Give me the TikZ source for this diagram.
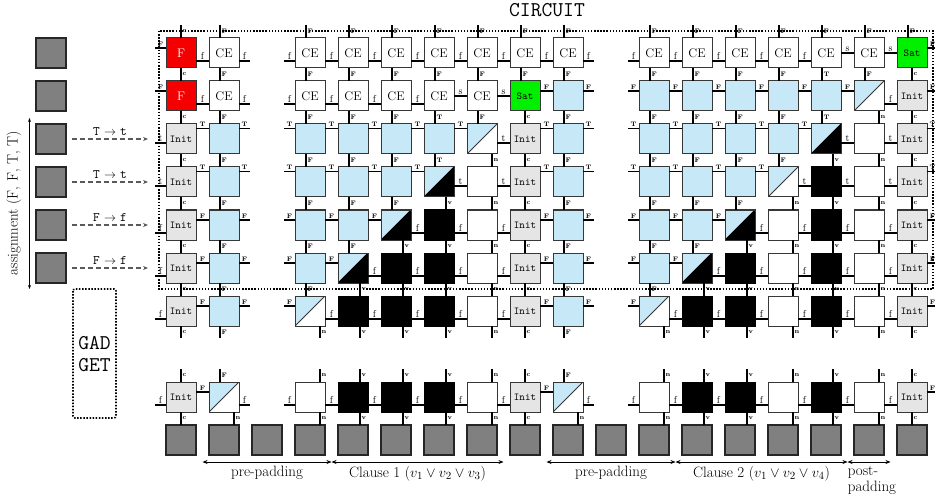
\documentclass[tikz,border=0pt]{standalone}
\usetikzlibrary{calc,arrows.meta}
\definecolor{cblue}{RGB}{198,232,247}
\definecolor{cgray}{RGB}{229,229,229}
\definecolor{cgreen}{RGB}{0,240,0}
\definecolor{cred}{RGB}{245,0,0}
\definecolor{cdark}{RGB}{128,128,128}
\definecolor{cborder}{RGB}{55,55,55}
\tikzset{
 cellbase/.style={draw=cborder, line width=1pt, minimum width=30pt, minimum height=30pt, inner sep=0pt, outer sep=0pt},
 ce/.style={cellbase, fill=white, font=\fontsize{12.5}{12.5}\selectfont},
 redf/.style={cellbase, fill=cred, text=white, font=\fontsize{12.5}{12.5}\selectfont},
 satcell/.style={cellbase, fill=cgreen, font=\ttfamily\fontsize{10.5}{10.5}\selectfont},
 initcell/.style={cellbase, fill=cgray, font=\ttfamily\fontsize{10.5}{10.5}\selectfont},
 blu/.style={cellbase, fill=cblue},
 wht/.style={cellbase, fill=white},
 blk/.style={cellbase, fill=black, draw=black},
 dbw/.style={cellbase, fill=white, path picture={
   \fill[cblue] (path picture bounding box.north west) -- (path picture bounding box.north east) -- (path picture bounding box.south west) -- cycle;
   \draw[cborder, line width=0.9pt] (path picture bounding box.south west) -- (path picture bounding box.north east);}},
 dbk/.style={cellbase, fill=black, path picture={
   \fill[cblue] (path picture bounding box.north west) -- (path picture bounding box.north east) -- (path picture bounding box.south west) -- cycle;
   \draw[black, line width=0.9pt] (path picture bounding box.south west) -- (path picture bounding box.north east);}},
 grayb/.style={cellbase, fill=cdark, draw=black!85, line width=1.2pt},
 wire/.style={line width=1.4pt, black},
 hlL/.style={above, inner sep=0.6pt, font=\fontsize{10}{10}\selectfont},
 hlU/.style={above, inner sep=0.8pt, font=\fontsize{6.5}{6.5}\selectfont\bfseries},
 vlab/.style={anchor=west, inner sep=1pt, font=\fontsize{6.5}{6.5}\selectfont\bfseries},
 dotbox/.style={line width=1.6pt, dash pattern=on 1.5pt off 1.6pt},
 dasharr/.style={dash pattern=on 5pt off 3pt, line width=1.1pt, draw=black!65, -{Stealth[length=5pt,width=4pt]}, shorten <=6pt, shorten >=18pt},
 lab13/.style={above, inner sep=3pt, font=\fontsize{13}{13}\selectfont},
 barrow/.style={line width=0.9pt, {Stealth[length=5pt,width=4pt]}-{Stealth[length=5pt,width=4pt]}},
 blab/.style={below=2pt, inner sep=2pt, font=\fontsize{15}{16}\selectfont},
}
\newcommand\hwires[4]{\foreach \Rw/\Ka/\Kb in {#4}{\draw[wire] ($(n\Rw-\Ka.north east)+(0,#1)$) -- node[#2]{#3} ($(n\Rw-\Kb.north west)+(0,#1)$);}}
\newcommand\lstubs[4]{\foreach \Rw/\Ka in {#4}{\draw[wire] ($(n\Rw-\Ka.north west)+(0,#1)$) -- node[#2]{#3} ++(-11,0);}}
\newcommand\rstubs[4]{\foreach \Rw/\Ka in {#4}{\draw[wire] ($(n\Rw-\Ka.north east)+(0,#1)$) -- node[#2]{#3} ++(11,0);}}
\newcommand\vwires[3]{\foreach \Ka/\Ra/\Rb in {#3}{\draw[wire] ($(n\Ra-\Ka.south west)+(#1,0)$) -- node[vlab]{#2} ($(n\Rb-\Ka.north west)+(#1,0)$);}}
\newcommand\tstubs[4]{\foreach \Ka in {#4}{\draw[wire] ($(n#3-\Ka.north west)+(#1,0)$) -- node[vlab]{#2} ++(0,-13);}}
\newcommand\bstubs[4]{\foreach \Ka in {#4}{\draw[wire] ($(n#3-\Ka.south west)+(#1,0)$) -- node[vlab]{#2} ++(0,12);}}
\begin{document}
\begin{tikzpicture}[x=1pt,y=-1pt]
\useasboundingbox (0,0) rectangle (935,500);
% frames
\draw[dotbox] (159,31) rectangle (933,289);
\node[font=\ttfamily\fontsize{21}{21}\selectfont] (circ) at (547,10) {CIRCUIT};
\draw[dotbox, rounded corners=2pt] (73,289) rectangle (116,418);
\node[font=\ttfamily\fontsize{21}{22}\selectfont, align=center] (gad) at (94.5,354.5) {GAD\\GET};
% cells
\foreach \Rw/\Kk in {0/1,0/3,0/4,0/5,0/6,0/7,0/8,0/9,0/11,0/12,0/13,0/14,0/15,0/16,1/1,1/3,1/4,1/5,1/6,1/7}
  {\node[ce] (n\Rw-\Kk) at ({181+43*\Kk},{53+43*\Rw}) {CE};}
\foreach \Rw/\Kk in {0/0,1/0}
  {\node[redf] (n\Rw-\Kk) at ({181+43*\Kk},{53+43*\Rw}) {F};}
\foreach \Rw/\Kk in {0/17,1/8}
  {\node[satcell] (n\Rw-\Kk) at ({181+43*\Kk},{53+43*\Rw}) {Sat};}
\foreach \Rw/\Kk in {1/17,2/0,2/8,2/17,3/0,3/8,3/17,4/0,4/8,4/17,5/0,5/8,5/17,6/0,6/8,6/17,8/0,8/8,8/17}
  {\node[initcell] (n\Rw-\Kk) at ({181+43*\Kk},{53+43*\Rw}) {Init};}
\foreach \Rw/\Kk in {1/9,1/11,1/12,1/13,1/14,1/15,2/1,2/3,2/4,2/5,2/6,2/9,2/11,2/12,2/13,2/14,3/1,3/3,3/4,3/5,3/9,3/11,3/12,3/13,4/1,4/3,4/4,4/9,4/11,4/12,5/1,5/3,5/9,5/11,6/1,6/9}
  {\node[blu] (n\Rw-\Kk) at ({181+43*\Kk},{53+43*\Rw}) {};}
\foreach \Rw/\Kk in {1/16,2/7,3/14,6/3,6/11,8/1,8/9}
  {\node[dbw] (n\Rw-\Kk) at ({181+43*\Kk},{53+43*\Rw}) {};}
\foreach \Rw/\Kk in {2/15,3/6,4/5,4/13,5/4,5/12}
  {\node[dbk] (n\Rw-\Kk) at ({181+43*\Kk},{53+43*\Rw}) {};}
\foreach \Rw/\Kk in {2/16,3/7,3/16,4/7,4/14,4/16,5/7,5/14,5/16,6/7,6/14,6/16,8/3,8/7,8/11,8/14,8/16}
  {\node[wht] (n\Rw-\Kk) at ({181+43*\Kk},{53+43*\Rw}) {};}
\foreach \Rw/\Kk in {3/15,4/6,4/15,5/5,5/6,5/13,5/15,6/4,6/5,6/6,6/12,6/13,6/15,8/4,8/5,8/6,8/12,8/13,8/15}
  {\node[blk] (n\Rw-\Kk) at ({181+43*\Kk},{53+43*\Rw}) {};}
\foreach \Kk in {0,...,17}
  {\node[grayb] (n9-\Kk) at ({181+43*\Kk},440) {};}
\foreach \Rw in {0,...,5}
  {\node[grayb] (g\Rw) at (51,{53+43*\Rw}) {};}
% horizontal wires
\hwires{23}{hlL}{f}{0/0/1,0/3/4,0/4/5,0/5/6,0/6/7,0/7/8,0/8/9,0/11/12,0/12/13,0/13/14,0/14/15,
 1/0/1,1/3/4,1/4/5,1/5/6,1/16/17,
 4/5/6,4/6/7,4/7/8,4/13/14,4/14/15,4/15/16,4/16/17,
 5/4/5,5/5/6,5/6/7,5/7/8,5/12/13,5/13/14,5/14/15,5/15/16,5/16/17,
 6/3/4,6/4/5,6/5/6,6/6/7,6/7/8,6/11/12,6/12/13,6/13/14,6/14/15,6/15/16,6/16/17,
 8/3/4,8/4/5,8/5/6,8/6/7,8/7/8,8/11/12,8/12/13,8/13/14,8/14/15,8/15/16,8/16/17}
\hwires{15}{hlL}{s}{0/15/16,0/16/17,1/6/7,1/7/8}
\hwires{19}{hlL}{t}{2/7/8,2/15/16,2/16/17,3/6/7,3/7/8,3/14/15,3/15/16,3/16/17}
\hwires{4.5}{hlU}{T}{2/0/1,2/3/4,2/4/5,2/5/6,2/6/7,2/8/9,2/11/12,2/12/13,2/13/14,2/14/15,
 3/0/1,3/3/4,3/4/5,3/5/6,3/8/9,3/11/12,3/12/13,3/13/14}
\hwires{10}{hlU}{F}{1/8/9,1/11/12,1/12/13,1/13/14,1/14/15,1/15/16,4/0/1,4/3/4,4/4/5,4/8/9,4/11/12,4/12/13,
 5/0/1,5/3/4,5/8/9,5/11/12,6/0/1,6/8/9,8/0/1,8/8/9}
% horizontal stubs
\lstubs{10}{hlU}{F}{0/0,1/0,1/11,4/3,4/11,5/3,5/11,6/3,6/11}
\lstubs{4.5}{hlU}{T}{2/3,2/11,3/3,3/11}
\lstubs{23}{hlL}{f}{0/3,0/11,1/3,4/0,5/0,6/0,8/0,8/3,8/11}
\lstubs{19}{hlL}{t}{2/0,3/0}
\rstubs{23}{hlL}{f}{0/1,0/9,1/1,8/1,8/9}
\rstubs{10}{hlU}{F}{0/17,1/9,1/17,4/1,4/9,4/17,5/1,5/9,5/17,6/1,6/9,6/17,8/17}
\rstubs{4.5}{hlU}{T}{2/1,2/9,2/17,3/1,3/9,3/17}
% vertical wires
\vwires{11}{F}{1/0/1,1/1/2,1/2/3,1/3/4,1/4/5,1/5/6,3/0/1,3/1/2,3/2/3,3/3/4,3/4/5,3/5/6,
 4/0/1,4/1/2,4/2/3,4/3/4,4/4/5,5/0/1,5/1/2,5/2/3,5/3/4,6/0/1,7/0/1,7/1/2,8/0/1,
 9/0/1,9/1/2,9/2/3,9/3/4,9/4/5,9/5/6,11/0/1,11/1/2,11/2/3,11/3/4,11/4/5,11/5/6,
 12/0/1,12/1/2,12/2/3,12/3/4,12/4/5,13/0/1,13/1/2,13/2/3,13/3/4,14/0/1,14/1/2,14/2/3,16/0/1}
\vwires{11}{T}{6/1/2,6/2/3,15/0/1,15/1/2}
\vwires{15}{c}{0/0/1,0/1/2,0/2/3,0/3/4,0/4/5,0/5/6,0/8/9,8/1/2,8/2/3,8/3/4,8/4/5,8/5/6,8/8/9,
 17/0/1,17/1/2,17/2/3,17/3/4,17/4/5,17/5/6,17/8/9}
\vwires{22}{v}{4/5/6,4/8/9,5/4/5,5/5/6,5/8/9,6/3/4,6/4/5,6/5/6,6/8/9,12/5/6,12/8/9,13/4/5,13/5/6,13/8/9,
 15/2/3,15/3/4,15/4/5,15/5/6,15/8/9}
\vwires{25}{n}{1/8/9,3/8/9,7/2/3,7/3/4,7/4/5,7/5/6,7/8/9,9/8/9,11/8/9,14/3/4,14/4/5,14/5/6,14/8/9,
 16/1/2,16/2/3,16/3/4,16/4/5,16/5/6,16/8/9}
% vertical stubs
\tstubs{15}{c}{0}{0}
\tstubs{11}{F}{0}{1,3,4,5,6,7,8,9,11,12,13,14,15,16,17}
\bstubs{15}{c}{6}{0,8,17}
\bstubs{11}{F}{6}{1,9}
\bstubs{25}{n}{6}{3,7,11,14,16}
\bstubs{22}{v}{6}{4,5,6,12,13,15}
\tstubs{15}{c}{8}{0,8,17}
\tstubs{11}{F}{8}{1,9}
\tstubs{25}{n}{8}{3,7,11,14,16}
\tstubs{22}{v}{8}{4,5,6,12,13,15}
% assignment arrows
\draw[dasharr] (g2.east) -- node[lab13, pos=0.44]{\texttt{T} $\rightarrow$ \texttt{t}} (g2.east -| n2-0.west);
\draw[dasharr] (g3.east) -- node[lab13, pos=0.44]{\texttt{T} $\rightarrow$ \texttt{t}} (g3.east -| n3-0.west);
\draw[dasharr] (g4.east) -- node[lab13, pos=0.44]{\texttt{F} $\rightarrow$ \texttt{f}} (g4.east -| n4-0.west);
\draw[dasharr] (g5.east) -- node[lab13, pos=0.44]{\texttt{F} $\rightarrow$ \texttt{f}} (g5.east -| n5-0.west);
\coordinate (asgtop) at (29.5,118);
\coordinate (asgbot) at (29.5,289);
\draw[line width=0.7pt, {Stealth[length=4pt,width=3pt]}-{Stealth[length=4pt,width=3pt]}] (asgtop) -- (asgbot);
\node[rotate=90, font=\fontsize{15}{15}\selectfont] (asg) at (14,203) {assignment (F, F, T, T)};
% bottom arrows
\coordinate (p0) at ($(n9-0.south east)!0.5!(n9-1.south west)+(0,7)$);
\coordinate (p1) at ($(n9-3.south east)!0.5!(n9-4.south west)+(0,7)$);
\coordinate (p2) at ($(n9-7.south east)!0.5!(n9-8.south west)+(0,7)$);
\coordinate (p3) at ($(n9-8.south east)!0.5!(n9-9.south west)+(0,7)$);
\coordinate (p4) at ($(n9-11.south east)!0.5!(n9-12.south west)+(0,7)$);
\coordinate (p5) at ($(n9-15.south east)!0.5!(n9-16.south west)+(0,7)$);
\coordinate (p6) at ($(n9-16.south east)!0.5!(n9-17.south west)+(0,7)$);
\draw[barrow] (p0) -- node[blab]{pre-padding} (p1);
\draw[barrow] (p1) -- node[blab]{Clause 1 ($v_1 \lor v_2 \lor v_3$)} (p2);
\draw[barrow] (p3) -- node[blab]{pre-padding} (p4);
\draw[barrow] (p4) -- node[blab]{Clause 2 ($v_1 \lor v_2 \lor v_4$)} (p5);
\draw[barrow] (p5) -- node[blab, align=left, xshift=3pt]{post-\\padding} (p6);
\end{tikzpicture}
\end{document}
